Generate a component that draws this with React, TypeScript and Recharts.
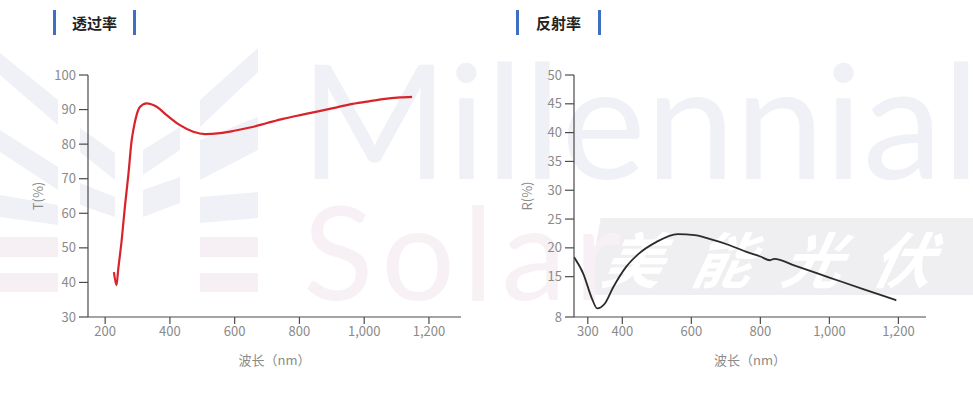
import React from 'react';
import { LineChart, Line, XAxis, YAxis } from 'recharts';

// Transmittance curve (wavelength nm, T %)
const tWavelength = [227, 235, 240, 251, 261, 272, 282, 287, 297, 308, 328, 359, 390, 431, 472, 508, 555, 595, 647, 700, 749, 802, 854, 904, 956, 1009, 1058, 1111, 1148];
const tValue = [43.0, 39.2, 43.5, 52.2, 61.9, 71.5, 81.2, 84.1, 88.4, 90.8, 91.8, 90.8, 88.4, 85.5, 83.6, 82.9, 83.2, 83.8, 84.8, 86.1, 87.3, 88.4, 89.4, 90.4, 91.5, 92.3, 93.0, 93.5, 93.7];

// Reflectance curve (wavelength nm, R %)
const rWavelength = [260, 287, 312, 327, 349, 374, 411, 448, 498, 560, 610, 650, 709, 760, 800, 828, 840, 900, 1000, 1100, 1194];
const rValue = [18.4, 15.5, 11.2, 9.5, 10.3, 13.2, 16.7, 19.0, 21.0, 22.4, 22.2, 21.6, 20.5, 19.3, 18.5, 17.85, 18.1, 16.9, 14.85, 12.8, 10.9];

const tXTicks = [200, 400, 600, 800, 1000, 1200];
const tYTicks = [30, 40, 50, 60, 70, 80, 90, 100];
const rXTicks = [300, 400, 600, 800, 1000, 1200];
const rYTicks = [8, 15, 20, 25, 30, 35, 40, 45, 50];

const tData = tWavelength.map((w, i) => ({ w, v: tValue[i] }));
const rData = rWavelength.map((w, i) => ({ w, v: rValue[i] }));

const FONT = '"Noto Sans CJK SC", "Noto Sans", sans-serif';
const tickStyle = { fill: '#8a8a8a', fontSize: 13, fontFamily: FONT };
const axisLine = { stroke: '#4a4a4a', strokeWidth: 1.2 };
const fmt = (v: number) => v.toLocaleString('en-US');

function Title({ left, text, barGap }: { left: number; text: string; barGap: number }) {
  return (
    <div style={{ position: 'absolute', left, top: 10, height: 25, display: 'flex', alignItems: 'center' }}>
      <div style={{ width: 3, height: 25, background: '#3d6fc2' }} />
      <div style={{ width: barGap, textAlign: 'center', fontFamily: FONT, fontSize: 15, fontWeight: 700, color: '#222' }}>{text}</div>
      <div style={{ width: 3, height: 25, background: '#3d6fc2' }} />
    </div>
  );
}

const BLUE_W = '#eff1f6';
const PINK_W = '#f6f0f4';

function Logo() {
  const shapes: [string, string][] = [
    ['0,53 58,100 58,125 0,75', BLUE_W],
    ['0,130 58,167 58,190 0,152', BLUE_W],
    ['0,195 58,205 58,225 0,217', BLUE_W],
    ['0,237 58,237 58,257 0,257', PINK_W],
    ['0,273 58,273 58,292 0,292', PINK_W],
    ['80,128 115,153 115,180 80,152', BLUE_W],
    ['80,183 115,197 115,217 80,205', BLUE_W],
    ['143,150 180,127 180,150 143,175', BLUE_W],
    ['143,190 180,177 180,203 143,217', BLUE_W],
    ['200,100 258,48 258,72 200,127', BLUE_W],
    ['200,140 258,117 258,150 200,180', BLUE_W],
    ['200,197 258,192 258,218 200,223', BLUE_W],
    ['200,237 258,237 258,257 200,257', PINK_W],
    ['200,273 258,273 258,292 200,292', PINK_W],
  ];
  return (
    <svg width={973} height={394} style={{ position: 'absolute', left: 0, top: 0 }}>
      {shapes.map(([p, c], i) => (
        <polygon key={i} points={p} fill={c} />
      ))}
    </svg>
  );
}

function Watermark() {
  return (
    <>
      <Logo />
      <div style={{ position: 'absolute', left: 300, top: 37, fontFamily: 'Lato, "Open Sans", sans-serif', fontWeight: 400, fontSize: 160, color: '#f0f1f6', lineHeight: 1, whiteSpace: 'nowrap' }}>Millennial</div>
      <div style={{ position: 'absolute', left: 587, top: 218, width: 386, height: 77, background: '#efeff2', transform: 'skewX(-10deg)', transformOrigin: 'bottom left' }} />
      <div style={{ position: 'absolute', left: 303, top: 185, fontFamily: 'Lato, "Open Sans", sans-serif', fontWeight: 400, fontSize: 130, color: '#f7f1f5', lineHeight: 1, whiteSpace: 'nowrap', letterSpacing: 8 }}>Solar</div>
      <div style={{ position: 'absolute', left: 605, top: 222, fontFamily: FONT, fontWeight: 700, fontStyle: 'italic', fontSize: 60, color: '#ffffff', lineHeight: 1.15, letterSpacing: 30, whiteSpace: 'nowrap', transform: 'skewX(-12deg)' }}>美能光伏</div>
    </>
  );
}

export default function App() {
  return (
    <div style={{ position: 'absolute', left: 0, top: 0, width: 973, height: 394, background: '#fff', overflow: 'hidden' }}>
      <Watermark />
      <Title left={53} text="透过率" barGap={77} />
      <Title left={516} text="反射率" barGap={79} />

      <div style={{ position: 'absolute', left: 0, top: 0 }}>
        <LineChart width={480} height={394} data={tData} margin={{ top: 75, right: 19, bottom: 27, left: 38 }}>
          <XAxis
            dataKey="w"
            type="number"
            domain={[147, 1299]}
            ticks={tXTicks}
            tickFormatter={fmt}
            allowDataOverflow
            height={50}
            tickSize={7}
            tickMargin={3}
            tick={tickStyle}
            axisLine={axisLine}
            tickLine={axisLine}
            label={{ value: '波长（nm）', position: 'insideBottom', offset: 2, style: { fill: '#8a8a8a', fontSize: 13, fontFamily: FONT } }}
          />
          <YAxis
            type="number"
            domain={[30, 100]}
            ticks={tYTicks}
            width={50}
            tickSize={9}
            tickMargin={3}
            tick={tickStyle}
            axisLine={axisLine}
            tickLine={axisLine}
            label={{ value: 'T(%)', angle: -90, position: 'insideLeft', offset: 0, style: { textAnchor: 'middle', fill: '#8a8a8a', fontSize: 13, fontFamily: FONT } }}
          />
          <Line dataKey="v" type="monotone" stroke="#d8232a" strokeWidth={2.2} dot={false} isAnimationActive={false} />
        </LineChart>
      </div>

      <div style={{ position: 'absolute', left: 480, top: 0 }}>
        <LineChart width={493} height={394} data={rData} margin={{ top: 75, right: 47, bottom: 27, left: 44 }}>
          <XAxis
            dataKey="w"
            type="number"
            domain={[260, 1280]}
            ticks={rXTicks}
            tickFormatter={fmt}
            allowDataOverflow
            height={50}
            tickSize={7}
            tickMargin={3}
            tick={tickStyle}
            axisLine={axisLine}
            tickLine={axisLine}
            label={{ value: '波长（nm）', position: 'insideBottom', offset: 2, style: { fill: '#8a8a8a', fontSize: 13, fontFamily: FONT } }}
          />
          <YAxis
            type="number"
            domain={[8, 50]}
            ticks={rYTicks}
            width={50}
            tickSize={9}
            tickMargin={3}
            tick={tickStyle}
            axisLine={axisLine}
            tickLine={axisLine}
            label={{ value: 'R(%)', angle: -90, position: 'insideLeft', offset: 3, style: { textAnchor: 'middle', fill: '#8a8a8a', fontSize: 13, fontFamily: FONT } }}
          />
          <Line dataKey="v" type="monotone" stroke="#2b2b2b" strokeWidth={1.8} dot={false} isAnimationActive={false} />
        </LineChart>
      </div>
    </div>
  );
}
